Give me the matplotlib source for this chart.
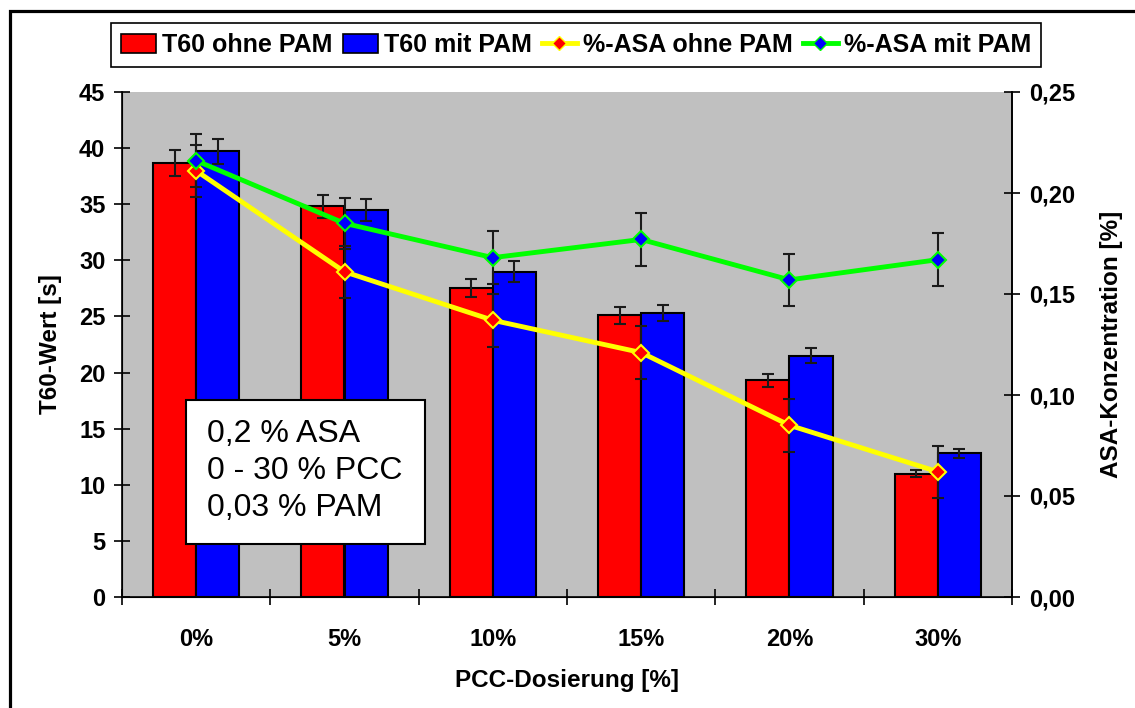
## T60 / ASA chart - PCC dosage series
import numpy as np
import matplotlib.pyplot as plt
from matplotlib.patches import Rectangle
from matplotlib.lines import Line2D
from matplotlib.ticker import FuncFormatter

plt.rcParams['font.family'] = ['Liberation Sans', 'DejaVu Sans']

# data
categories = ['0%', '5%', '10%', '15%', '20%', '30%']
t60_ohne = [38.7, 34.8, 27.5, 25.1, 19.3, 11.0]
t60_ohne_err = [1.15, 1.0, 0.8, 0.75, 0.6, 0.35]
t60_mit = [39.7, 34.5, 29.0, 25.3, 21.5, 12.8]
t60_mit_err = [1.15, 1.0, 0.9, 0.75, 0.65, 0.4]
asa_ohne = [0.211, 0.161, 0.137, 0.121, 0.085, 0.062]
asa_ohne_err = [0.013, 0.013, 0.013, 0.013, 0.013, 0.013]
asa_mit = [0.216, 0.185, 0.168, 0.177, 0.157, 0.167]
asa_mit_err = [0.013, 0.0125, 0.013, 0.013, 0.013, 0.013]
box_text = '0,2 % ASA\n0 - 30 % PCC\n0,03 % PAM'

W, H = 1135, 708
fig = plt.figure(figsize=(W / 100, H / 100), dpi=100)
ax = fig.add_axes([122 / W, 1 - 597 / H, 890 / W, 505 / H])
ax.set_facecolor('#C0C0C0')

x = np.arange(len(categories))
bw = 0.29
ax.bar(x - bw, t60_ohne, bw, align='edge', color='#FF0000', edgecolor='black', linewidth=1.5, zorder=2)
ax.bar(x, t60_mit, bw, align='edge', color='#0000FF', edgecolor='black', linewidth=1.5, zorder=2)
ekw = dict(fmt='none', ecolor='#1a1a1a', elinewidth=1.5, capsize=4.5, capthick=1.5, zorder=3)
ax.errorbar(x - bw / 2, t60_ohne, yerr=t60_ohne_err, **ekw)
ax.errorbar(x + bw / 2, t60_mit, yerr=t60_mit_err, **ekw)

ax.set_xlim(-0.5, len(categories) - 0.5)
ax.set_ylim(0, 45)
ax.set_yticks(np.arange(0, 46, 5))
ax.set_xticks(x)
ax.set_xticklabels(categories)
ax.set_xticks(np.arange(-0.5, len(categories), 1), minor=True)
ax.tick_params(axis='x', which='major', length=0, pad=22)
ax.tick_params(axis='x', which='minor', direction='inout', length=12, width=1.2)
ax.tick_params(axis='y', direction='inout', length=12, width=1.2, pad=6)
for lab in ax.get_xticklabels() + ax.get_yticklabels():
    lab.set_fontsize(17)
    lab.set_fontweight('bold')
ax.spines['top'].set_visible(False)
for s in ['left', 'bottom', 'right']:
    ax.spines[s].set_linewidth(1.2)
ax.set_ylabel('T60-Wert [s]', fontsize=17.5, fontweight='bold', labelpad=12)
ax.set_xlabel('PCC-Dosierung [%]', fontsize=17.5, fontweight='bold', labelpad=13)

ax2 = ax.twinx()
ax2.set_ylim(0, 0.25)
ax2.set_yticks(np.arange(0, 0.26, 0.05))
ax2.yaxis.set_major_formatter(FuncFormatter(lambda v, p: f'{v:.2f}'.replace('.', ',')))
ax2.tick_params(axis='y', direction='inout', length=12, width=1.2, pad=6)
for lab in ax2.get_yticklabels():
    lab.set_fontsize(17)
    lab.set_fontweight('bold')
ax2.spines['top'].set_visible(False)
ax2.spines['right'].set_linewidth(1.2)
ax2.set_ylabel('ASA-Konzentration [%]', fontsize=17.5, fontweight='bold', labelpad=18)

ekw2 = dict(fmt='none', ecolor='#1a1a1a', elinewidth=1.5, capsize=4.5, capthick=1.5, zorder=3)
ax2.errorbar(x, asa_ohne, yerr=asa_ohne_err, **ekw2)
ax2.errorbar(x, asa_mit, yerr=asa_mit_err, **ekw2)
ax2.plot(x, asa_ohne, color='#FFFF00', lw=3.5, marker='D', ms=8, mfc='#FF0000', mec='#FFFF00', mew=1.5, zorder=4)
ax2.plot(x, asa_mit, color='#00FF00', lw=3.5, marker='D', ms=8, mfc='#0000FF', mec='#00FF00', mew=1.5, zorder=4)

# legend across the top
handles = [
    Rectangle((0, 0), 1, 1, fc='#FF0000', ec='black', lw=1.2),
    Rectangle((0, 0), 1, 1, fc='#0000FF', ec='black', lw=1.2),
    Line2D([], [], color='#FFFF00', lw=3.5, marker='D', ms=7, mfc='#FF0000', mec='#FFFF00'),
    Line2D([], [], color='#00FF00', lw=3.5, marker='D', ms=7, mfc='#0000FF', mec='#00FF00'),
]
labels = ['T60 ohne PAM', 'T60 mit PAM', '%-ASA ohne PAM', '%-ASA mit PAM']
leg = fig.legend(handles, labels, loc='center', bbox_to_anchor=(576 / W, 1 - 45 / H), ncol=4,
                 frameon=True, fancybox=False, edgecolor='black', framealpha=1,
                 prop={'size': 18, 'weight': 'bold'}, handlelength=1.4, handleheight=0.8,
                 handletextpad=0.25, columnspacing=0.4, borderpad=0.4, borderaxespad=0)
leg.get_frame().set_linewidth(1.2)

# info box
fig.patches.append(Rectangle((186 / W, 1 - 544 / H), 239 / W, 144 / H, transform=fig.transFigure,
                             fc='white', ec='black', lw=1.5, zorder=5))
fig.text(207 / W, 1 - 471 / H, box_text, fontsize=23, va='center', ha='left', linespacing=1.32, zorder=6)

# outer frame (cut off at right/bottom like the reference)
fig.patches.append(Rectangle((9.5 / W, -0.1), 1.2, 1.1 - 11.5 / H, transform=fig.transFigure,
                             fill=False, ec='black', lw=2.3, zorder=0, clip_on=False))

fig.savefig('out.png', dpi=100)
